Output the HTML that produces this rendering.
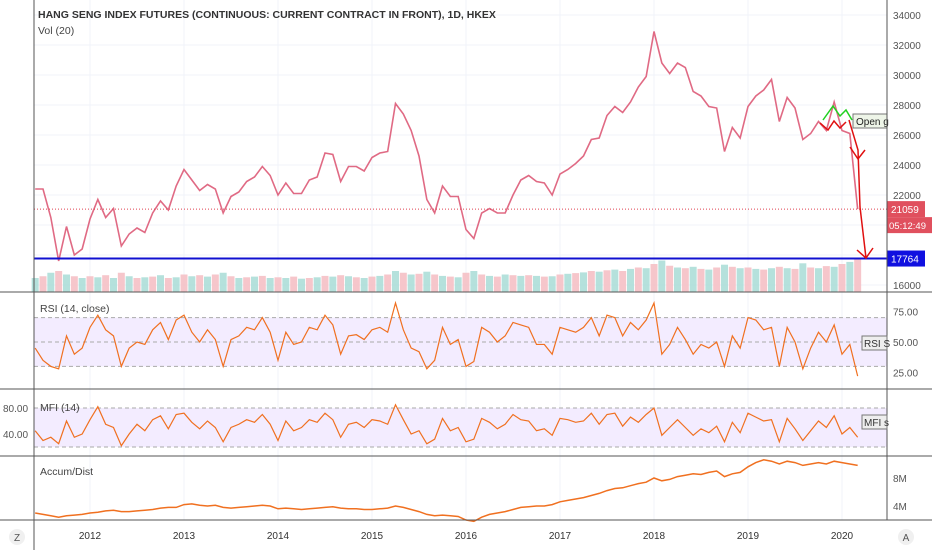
<!DOCTYPE html>
<html><head><meta charset="utf-8"><style>
body{margin:0;background:#fff;font-family:"Liberation Sans",sans-serif}
svg text{font-family:"Liberation Sans",sans-serif}
</style></head><body>
<svg id="c" width="932" height="550"></svg>
<script>
const priceCloses = [22400,22400,20500,17600,19900,18000,18400,
20400,21700,20500,21100,18600,19400,19800,19500,20800,21600,21000,22600,
23700,23000,22300,22700,22400,20800,21900,22200,22900,23200,23900,23300,
22000,22800,22100,22100,23000,23200,24800,24700,22900,23900,23900,23600,
24500,24800,24900,28100,27400,26300,24600,21700,20800,22600,21900,21900,
19700,19100,20800,21100,20800,20800,22000,23000,23300,22900,22800,22000,
23400,23700,24100,24600,25700,25800,27300,27900,27500,28200,29200,29900,
32900,30800,30100,30800,30500,28900,28600,27900,27800,24900,26500,25800,
27900,28600,29000,29700,26900,28500,27800,25700,26100,26900,26300,28200,
26300,26100,21059];
const volumes = [40,45,55,60,50,45,40,
45,42,48,40,55,45,40,42,44,48,40,42,
50,45,48,44,50,55,45,40,42,44,46,40,
42,40,44,38,40,42,46,44,48,45,42,40,
44,46,50,60,55,50,52,58,50,46,44,42,
55,60,50,46,44,50,48,46,48,46,44,45,
50,52,54,56,60,58,62,64,60,66,70,68,
80,90,75,70,68,72,66,64,70,78,72,68,
70,66,64,68,72,68,66,82,70,68,74,72,
80,86,95];
const rsiValues = [45,35,30,28,55,40,45,
62,72,60,55,30,45,50,48,60,66,52,68,
72,58,50,60,52,30,52,55,62,60,70,58,
35,58,48,50,62,60,72,64,40,55,56,52,
60,62,58,82,60,45,42,28,35,62,48,52,
30,34,62,58,50,55,66,64,62,48,48,40,
62,60,58,62,70,55,72,70,55,66,60,68,
82,40,48,62,52,40,48,45,50,30,55,45,
70,68,60,62,30,62,50,28,45,58,50,64,
40,48,22];
const mfiValues = [45,30,35,25,60,35,40,
62,82,55,50,22,40,55,45,62,68,48,70,
72,58,48,60,50,28,50,55,62,58,70,55,
30,60,45,50,62,58,72,62,35,55,58,50,
62,60,55,85,62,40,45,25,32,64,45,50,
28,32,64,58,48,55,70,62,60,45,48,38,
64,62,58,60,72,55,70,72,52,66,58,70,
80,38,50,62,50,38,48,42,52,28,58,42,
72,66,60,62,28,64,48,30,45,60,50,68,
40,50,35];
const adValues = [3.0,2.8,2.6,2.4,2.6,2.7,2.8,
3.0,3.1,3.3,3.4,3.2,3.2,3.3,3.4,3.5,3.7,3.8,3.8,
4.2,4.3,4.1,4.0,4.1,3.8,3.7,3.8,3.9,4.0,4.1,4.0,
3.6,3.7,3.6,3.5,3.6,3.7,3.8,3.9,3.7,3.6,3.6,3.5,
3.5,3.6,3.7,4.0,3.8,3.5,3.2,2.8,2.6,2.7,2.6,2.5,
2.0,1.8,2.4,2.8,3.0,3.2,3.5,3.8,3.9,4.0,4.0,4.2,
4.6,4.8,5.0,5.2,5.5,5.8,6.2,6.5,6.6,6.9,7.2,7.4,
8.0,7.6,7.8,8.2,8.4,8.6,8.5,8.8,9.0,8.2,8.6,8.8,
9.6,10.2,10.6,10.4,10.0,10.4,10.2,9.8,10.0,10.2,10.0,10.4,
10.2,10.0,9.8];
const yearLabels = ["2012","2013","2014","2015","2016","2017","2018","2019","2020"];
const priceTicks = [16000,18000,20000,22000,24000,26000,28000,30000,32000,34000];

const NS="http://www.w3.org/2000/svg", svg=document.getElementById('c');
function el(t,a,txt,p){const e=document.createElementNS(NS,t);for(const k in a)e.setAttribute(k,a[k]);if(txt!=null)e.textContent=txt;(p||svg).appendChild(e);return e;}
const tOf=i=>2011+5/12+i/12;
const X=t=>90+(t-2012)*94;
const yP=p=>15+(34000-p)*0.015;
const yR=v=>342-(v-50)*1.22;
const yM=v=>434-(v-40)*0.65;
const yA=v=>506-(v-4)*7;
const L=34,R=887;

for(let i=0;i<yearLabels.length;i++){const x=X(2012+i);let g=el('line',{x1:x,x2:x,y1:0,y2:520,stroke:'#f0f3fa'});}
priceTicks.forEach(p=>{let g=el('line',{x1:L,x2:R,y1:yP(p),y2:yP(p),stroke:'#f0f3fa'});
 let t=el('text',{x:893,y:yP(p)+4,'font-size':10,fill:'#555'},p);});

el('rect',{x:L,y:yR(70),width:R-L,height:yR(30)-yR(70),fill:'#f3ecff',});
el('rect',{x:L,y:yM(80),width:R-L,height:yM(20)-yM(80),fill:'#f3ecff',});
[[yR(70)],[yR(50)],[yR(30)],[yM(80)],[yM(20)]].forEach(a=>{let g=el('line',{x1:L,x2:R,y1:a[0],y2:a[0],stroke:'#aaa','stroke-dasharray':'4,3'});});

volumes.forEach((v,i)=>{const b=el('rect',{x:X(tOf(i))-3.5,y:292-v*0.35,width:7,height:v*0.35,fill:(i%2==0)?'#a8dcd6':'#f4bcc2',opacity:0.85});
});

let pts=priceCloses.map((p,i)=>X(tOf(i))+','+yP(p)).join(' ');
let pl=el('polyline',{points:pts,fill:'none',stroke:'#e06a84','stroke-width':1.6});


el('line',{x1:L,x2:R,y1:yP(21059),y2:yP(21059),stroke:'#e04050','stroke-dasharray':'1,2',});
el('line',{x1:L,x2:R,y1:yP(17764),y2:yP(17764),stroke:'#1010d0','stroke-width':2,});
el('polyline',{points:'849,120 858,150 860,207 866,258',fill:'none',stroke:'#e01010','stroke-width':1.5,});
el('polyline',{points:'857,250 866,258 873,248',fill:'none',stroke:'#e01010','stroke-width':1.5,});
el('polyline',{points:'850,147 858,159 865,150',fill:'none',stroke:'#e01010','stroke-width':1.5,});
el('polyline',{points:'820,123 828,130 834,121 840,128 846,122',fill:'none',stroke:'#e01010','stroke-width':1.5,});
el('polyline',{points:'823,120 833,106 840,116 846,110 852,120',fill:'none',stroke:'#20d020','stroke-width':1.5,});
el('rect',{x:853,y:114,width:34,height:14,fill:'#eef5e8',stroke:'#777',});
el('text',{x:856,y:125,'font-size':10,fill:'#222',},'Open g');

el('rect',{x:887,y:yP(21059)-8,width:38,height:16,fill:'#e0505e',});
el('text',{x:891,y:yP(21059)+4,'font-size':10,fill:'#fff'},'21059');
el('rect',{x:887,y:yP(21059)+8,width:45,height:16,fill:'#e0505e',});
el('text',{x:889,y:yP(21059)+20,'font-size':9.5,fill:'#fff'},'05:12:49');
el('rect',{x:887,y:yP(17764)-8,width:38,height:16,fill:'#1010e0',});
el('text',{x:891,y:yP(17764)+4,'font-size':10,fill:'#fff'},'17764');

function line(arr,yf,name,w){const p=arr.map((v,i)=>X(tOf(i))+','+yf(v)).join(' ');const e=el('polyline',{points:p,fill:'none',stroke:'#f07020','stroke-width':w||1.2});}
line(rsiValues,yR,'rsi-line');line(mfiValues,yM,'mfi-line');line(adValues,yA,'accum-dist-line',1.5);

[292,389,456,520].forEach(y=>{let s=el('line',{x1:0,x2:932,y1:y,y2:y,stroke:'#555'});});
el('line',{x1:L,x2:L,y1:0,y2:550,stroke:'#555',});
el('line',{x1:R,x2:R,y1:0,y2:520,stroke:'#555',});

[[75,'75.00'],[50,'50.00'],[25,'25.00']].forEach(a=>el('text',{x:893,y:yR(a[0])+4,'font-size':10,fill:'#555',},a[1]));
[[80,'80.00'],[40,'40.00']].forEach(a=>el('text',{x:3,y:yM(a[0])+4,'font-size':10,fill:'#555',},a[1]));
[[8,'8M'],[4,'4M']].forEach(a=>el('text',{x:893,y:yA(a[0])+4,'font-size':10,fill:'#555',},a[1]));
el('rect',{x:862,y:336,width:25,height:14,fill:'#eee',stroke:'#777',});
el('text',{x:864,y:347,'font-size':10,fill:'#333'},'RSI S');
el('rect',{x:862,y:415,width:25,height:14,fill:'#eee',stroke:'#777',});
el('text',{x:864,y:426,'font-size':10,fill:'#333'},'MFI s');

yearLabels.forEach((y,i)=>{let t=el('text',{x:X(2012+i),y:539,'font-size':10,fill:'#333','text-anchor':'middle'},y);});

el('text',{x:38,y:18,'font-size':10.5,'font-weight':'bold',fill:'#333',},'HANG SENG INDEX FUTURES (CONTINUOUS: CURRENT CONTRACT IN FRONT), 1D, HKEX');
el('text',{x:38,y:34,'font-size':10.5,fill:'#444',},'Vol (20)');
el('text',{x:40,y:312,'font-size':10.5,fill:'#444',},'RSI (14, close)');
el('text',{x:40,y:411,'font-size':10.5,fill:'#444',},'MFI (14)');
el('text',{x:40,y:475,'font-size':10.5,fill:'#444',},'Accum/Dist');
el('circle',{cx:17,cy:537,r:8,fill:'#f0f0f0',});
el('text',{x:17,y:541,'font-size':10,fill:'#555','text-anchor':'middle'},'Z');
el('circle',{cx:906,cy:537,r:8,fill:'#f0f0f0',});
el('text',{x:906,y:541,'font-size':10,fill:'#555','text-anchor':'middle'},'A');
</script>
</body></html>
